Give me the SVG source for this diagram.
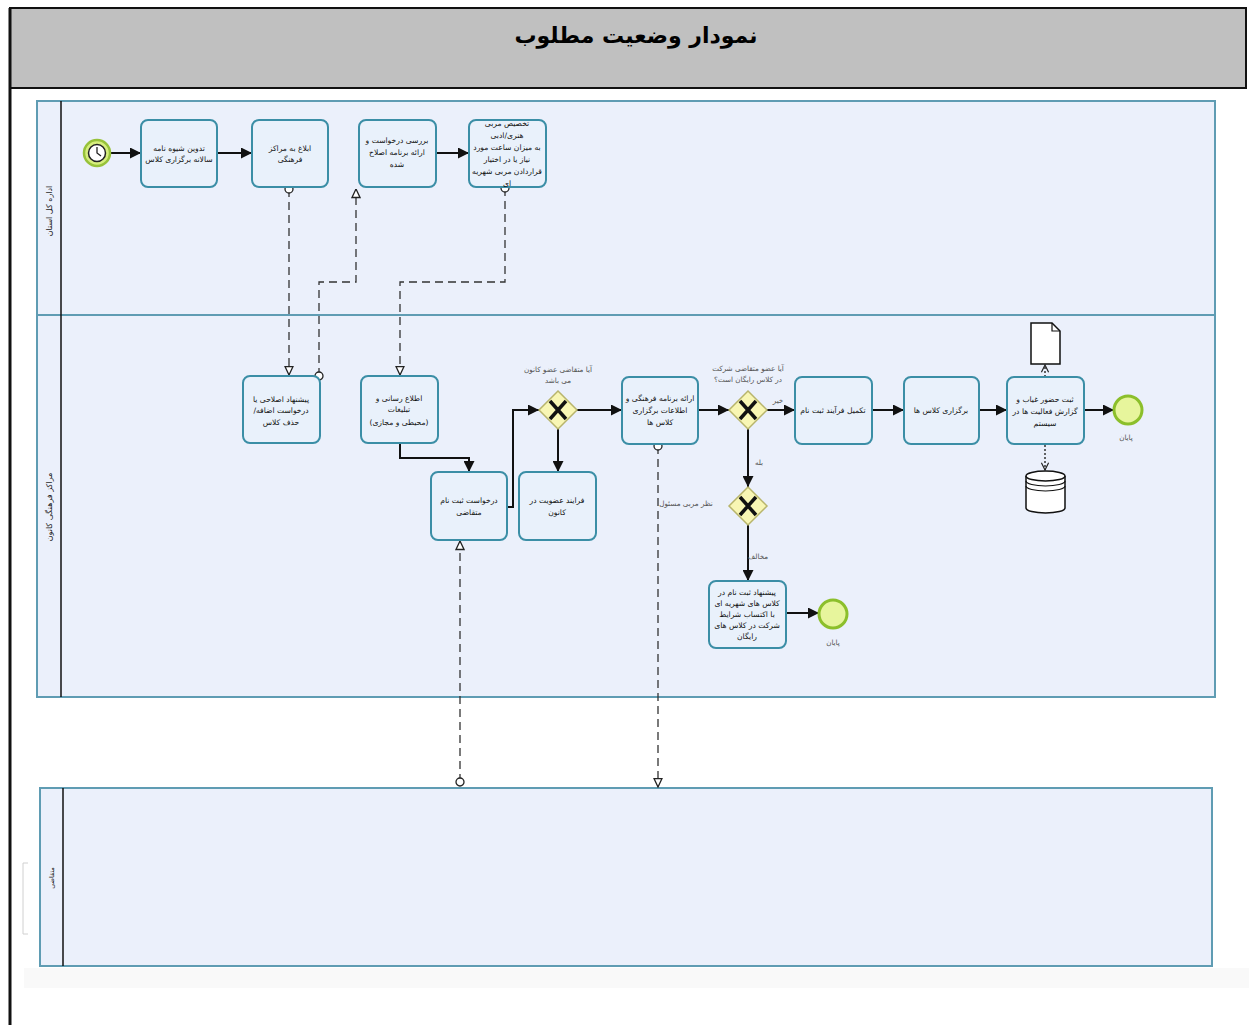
<svg xmlns="http://www.w3.org/2000/svg" width="1249" height="1025" viewBox="0 0 1249 1025">
<defs>
<style>
text{font-family:"DejaVu Sans",sans-serif;direction:rtl}
.t{font-size:7.6px;fill:#111;text-anchor:middle}
.l{font-size:7.2px;fill:#555;text-anchor:middle}
.pool{fill:#ebf0fb;stroke:#5f9cb3;stroke-width:2}
.hdr{stroke:#111;stroke-width:2}
.task{fill:#e9f1fb;stroke:#3b8ea6;stroke-width:2}
.gw{fill:#f8f6b4;stroke:#b8b56c;stroke-width:1.5}
.gx{stroke:#111;stroke-width:3.5;stroke-linecap:butt}
.seq{fill:none;stroke:#111;stroke-width:2;marker-end:url(#arr)}
.msg{fill:none;stroke:#333;stroke-width:1.3;stroke-dasharray:8,5;marker-start:url(#dot);marker-end:url(#tri)}
.asc{fill:none;stroke:#333;stroke-width:1.5;stroke-dasharray:2,2;marker-end:url(#open)}
.end{fill:#e7f59c;stroke:#8cbf2b;stroke-width:3}
</style>
<marker id="arr" viewBox="0 0 10 10" refX="10" refY="5" markerWidth="11" markerHeight="11" markerUnits="userSpaceOnUse" orient="auto"><path d="M0,0 L10,5 L0,10 z" fill="#111"/></marker>
<marker id="tri" viewBox="0 0 10 10" refX="9.5" refY="5" markerWidth="10" markerHeight="10" markerUnits="userSpaceOnUse" orient="auto"><path d="M1,1 L9.5,5 L1,9 z" fill="#fff" stroke="#222" stroke-width="1.3"/></marker>
<marker id="dot" viewBox="0 0 10 10" refX="5" refY="5" markerWidth="10" markerHeight="10" markerUnits="userSpaceOnUse" orient="auto"><circle cx="5" cy="5" r="4" fill="#fff" stroke="#222" stroke-width="1.3"/></marker>
<marker id="open" viewBox="0 0 10 10" refX="9" refY="5" markerWidth="9" markerHeight="9" markerUnits="userSpaceOnUse" orient="auto"><path d="M1,1 L9,5 L1,9" fill="none" stroke="#222" stroke-width="1.3"/></marker>
</defs>
<rect width="1249" height="1025" fill="#fff"/>

<g id="page-header">
<rect x="10" y="8" width="1236" height="80" fill="#c0c0c0" class="hdr"/>
<line x1="10" y1="8" x2="10" y2="1025" stroke="#111" stroke-width="3"/>
<text x="636" y="43" style="font-size:22px;font-weight:bold;text-anchor:middle;fill:#000">نمودار وضعیت مطلوب</text>
</g>

<g id="pool-main">
<rect x="37" y="101" width="1178" height="596" class="pool"/>
<line x1="37" y1="315" x2="1215" y2="315" stroke="#5f9cb3" stroke-width="2"/>
<line x1="61" y1="101" x2="61" y2="697" stroke="#111" stroke-width="1.5"/>
<text transform="translate(52,211) rotate(-90)" style="font-size:8px;text-anchor:middle;fill:#222">اداره کل استان</text>
<text transform="translate(52,507) rotate(-90)" style="font-size:8px;text-anchor:middle;fill:#222">مراکز فرهنگی کانون</text>
</g>

<g id="pool-applicant">
<rect x="24" y="968" width="1225" height="20" fill="#f9f9f9"/>
<path d="M28,863 H23 V934 H28" fill="none" stroke="#d0d0d0" stroke-width="1"/>
<rect x="40" y="788" width="1172" height="178" class="pool"/>
<line x1="63" y1="788" x2="63" y2="966" stroke="#111" stroke-width="1.5"/>
<text transform="translate(54,878) rotate(-90)" style="font-size:6.5px;text-anchor:middle;fill:#222">متقاضی</text>
</g>

<g id="connectors">
<path class="seq" d="M110,153 H141"/>
<path class="seq" d="M217,153 H252"/>
<path class="seq" d="M436,153 H469"/>
<path class="seq" d="M400,443 V458 H469 V472"/>
<path class="seq" d="M507,507 H513 V410 H539"/>
<path class="seq" d="M558,429 V472"/>
<path class="seq" d="M577,410 H622"/>
<path class="seq" d="M698,410 H729"/>
<path class="seq" d="M767,410 H795"/>
<path class="seq" d="M872,410 H904"/>
<path class="seq" d="M979,410 H1007"/>
<path class="seq" d="M1084,410 H1114"/>
<path class="seq" d="M748,429 V487"/>
<path class="seq" d="M748,525 V581"/>
<path class="seq" d="M786,613 H819"/>
<path class="msg" d="M289,189 V375"/>
<path class="msg" d="M319,376 V282 H356 V189"/>
<path class="msg" d="M505,188 V282 H400 V375"/>
<path class="msg" d="M460,782 V541"/>
<path class="msg" d="M658,446 V787"/>
<path class="asc" d="M1045,377 V365"/>
<path class="asc" d="M1045,445 V470"/>
<text class="l" x="778" y="403">خیر</text>
<text class="l" x="759" y="465">بله</text>
<text class="l" x="758" y="559">مخالف</text>
<text class="l" x="686" y="506">نظر مربی مسئول</text>
</g>

<g id="start">
<circle cx="97" cy="153" r="13" fill="#d6ee7d" stroke="#97c23a" stroke-width="2.5"/>
<circle cx="97" cy="153" r="8.5" fill="#fff" stroke="#222" stroke-width="1.5"/>
<path d="M97,147 V153 L101,156" fill="none" stroke="#222" stroke-width="1.3"/>
</g>

<g id="task-t1"><rect x="141" y="120" width="76" height="67" rx="7" class="task"/>
<text class="t" x="179" y="151">تدوین شیوه نامه</text><text class="t" x="179" y="162">سالانه برگزاری کلاس</text></g>

<g id="task-t2"><rect x="252" y="120" width="76" height="67" rx="7" class="task"/>
<text class="t" x="290" y="151">ابلاغ به مراکز</text><text class="t" x="290" y="162">فرهنگی</text></g>

<g id="task-t3"><rect x="359" y="120" width="77" height="67" rx="7" class="task"/>
<text class="t" x="397" y="143">بررسی درخواست و</text><text class="t" x="397" y="155">ارائه برنامه اصلاح</text><text class="t" x="397" y="167">شده</text></g>

<g id="task-t4"><rect x="469" y="120" width="77" height="67" rx="7" class="task"/>
<text class="t" x="507" y="126">تخصیص مربی</text><text class="t" x="507" y="138">هنری/ادبی</text><text class="t" x="507" y="150">به میزان ساعت مورد</text><text class="t" x="507" y="162">نیاز یا در اختیار</text><text class="t" x="507" y="174">قراردادن مربی شهریه</text><text class="t" x="507" y="186">ای</text></g>

<g id="task-p"><rect x="243" y="376" width="77" height="67" rx="7" class="task"/>
<text class="t" x="281" y="402">پیشنهاد اصلاحی یا</text><text class="t" x="281" y="413">درخواست اضافه/</text><text class="t" x="281" y="425">حذف کلاس</text></g>

<g id="task-i"><rect x="361" y="376" width="77" height="67" rx="7" class="task"/>
<text class="t" x="399" y="401">اطلاع رسانی و</text><text class="t" x="399" y="412">تبلیغات</text><text class="t" x="399" y="425">(محیطی و مجازی)</text></g>

<g id="task-r"><rect x="431" y="472" width="76" height="68" rx="7" class="task"/>
<text class="t" x="469" y="503">درخواست ثبت نام</text><text class="t" x="469" y="515">متقاضی</text></g>

<g id="gateway-1"><path d="M558,391 L577,410 L558,429 L539,410 Z" class="gw"/>
<path d="M550,401 L566,419 M566,401 L550,419" class="gx"/>
<text class="l" x="558" y="372">آیا متقاضی عضو کانون</text><text class="l" x="558" y="383">می باشد</text></g>

<g id="task-m"><rect x="519" y="472" width="77" height="68" rx="7" class="task"/>
<text class="t" x="557" y="503">فرایند عضویت در</text><text class="t" x="557" y="515">کانون</text></g>

<g id="task-a"><rect x="622" y="377" width="76" height="67" rx="7" class="task"/>
<text class="t" x="660" y="401">ارائه برنامه فرهنگی و</text><text class="t" x="660" y="413">اطلاعات برگزاری</text><text class="t" x="660" y="425">کلاس ها</text></g>

<g id="gateway-2"><path d="M748,391 L767,410 L748,429 L729,410 Z" class="gw"/>
<path d="M740,401 L756,419 M756,401 L740,419" class="gx"/>
<text class="l" x="748" y="371">آیا عضو متقاضی شرکت</text><text class="l" x="748" y="382">در کلاس رایگان است؟</text></g>

<g id="task-c"><rect x="795" y="377" width="77" height="67" rx="7" class="task"/>
<text class="t" x="833" y="413">تکمیل فرآیند ثبت نام</text></g>

<g id="task-d"><rect x="904" y="377" width="75" height="67" rx="7" class="task"/>
<text class="t" x="941" y="413">برگزاری کلاس ها</text></g>

<g id="task-e"><rect x="1007" y="377" width="77" height="67" rx="7" class="task"/>
<text class="t" x="1045" y="402">ثبت حضور غیاب و</text><text class="t" x="1045" y="414">گزارش فعالیت ها در</text><text class="t" x="1045" y="426">سیستم</text></g>

<g id="document"><path d="M1031,323 H1052 L1060,331 V364 H1031 Z" fill="#fff" stroke="#111" stroke-width="1.5"/>
<path d="M1052,323 V331 H1060" fill="none" stroke="#111" stroke-width="1.2"/></g>

<g id="database"><path d="M1026,476 V508 A19.5,5 0 0 0 1065,508 V476" fill="#fff" stroke="#111" stroke-width="1.5"/>
<ellipse cx="1045.5" cy="476" rx="19.5" ry="5" fill="#fff" stroke="#111" stroke-width="1.5"/>
<path d="M1026,481 A19.5,5 0 0 0 1065,481 M1026,486 A19.5,5 0 0 0 1065,486" fill="none" stroke="#111" stroke-width="1.2"/></g>

<g id="end-1"><circle cx="1128" cy="410" r="14" class="end"/><text class="l" x="1126" y="440">پایان</text></g>

<g id="gateway-3"><path d="M748,487 L767,506 L748,525 L729,506 Z" class="gw"/>
<path d="M740,497 L756,515 M756,497 L740,515" class="gx"/></g>

<g id="task-f"><rect x="709" y="581" width="77" height="67" rx="7" class="task"/>
<text class="t" x="747" y="595">پیشنهاد ثبت نام در</text><text class="t" x="747" y="606">کلاس های شهریه ای</text><text class="t" x="747" y="617">با اکتساب شرایط</text><text class="t" x="747" y="628">شرکت در کلاس های</text><text class="t" x="747" y="639">رایگان</text></g>

<g id="end-2"><circle cx="833" cy="614" r="14" class="end"/><text class="l" x="833" y="645">پایان</text></g>
</svg>
